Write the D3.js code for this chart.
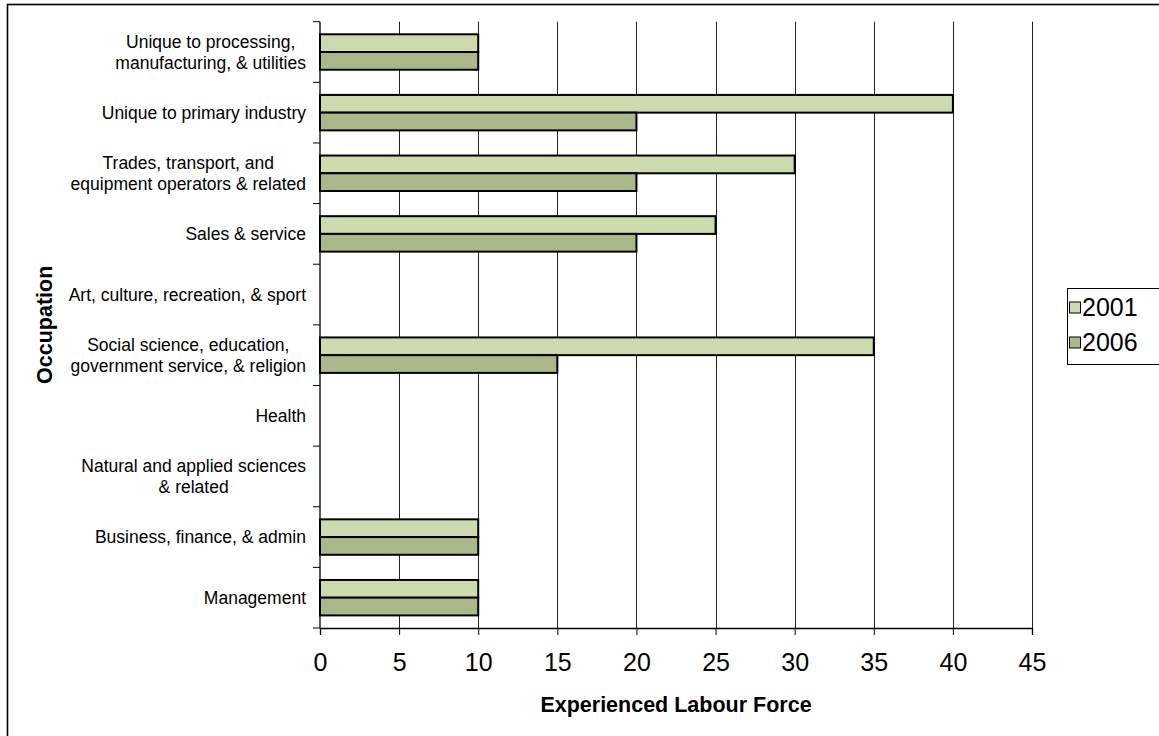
<!DOCTYPE html>
<html>
<head>
<meta charset="utf-8">
<script src="https://cdn.jsdelivr.net/npm/d3@7"></script>
<style>
  body { margin: 0; background: #fff; }
  svg { display: block; font-family: "Liberation Sans", Arial, sans-serif; }
</style>
</head>
<body>
<svg id="chart"></svg>
<script>
// occupations, top to bottom as drawn
var categories = [
  ["Unique to processing,", "manufacturing, & utilities"],
  ["Unique to primary industry"],
  ["Trades, transport, and", "equipment operators & related"],
  ["Sales & service"],
  ["Art, culture, recreation, & sport"],
  ["Social science, education,", "government service, & religion"],
  ["Health"],
  ["Natural and applied sciences", "& related"],
  ["Business, finance, & admin"],
  ["Management"]
];
var seriesNames = ["2001", "2006"];
var values2001 = [10, 40, 30, 25, 0, 35, 0, 0, 10, 10];
var values2006 = [10, 20, 20, 20, 0, 15, 0, 0, 10, 10];
var xTicks = [0, 5, 10, 15, 20, 25, 30, 35, 40, 45];
var colors = ["#ccdaae", "#abb889"];

(function () {
  var W = 1159, H = 736;
  var plotL = 320, plotR = 1032, plotT = 21.7, plotB = 628;

  var svg = d3.select("#chart").attr("width", W).attr("height", H);

  // outer chart frame (right/bottom fall outside the picture)
  svg.append("rect")
    .attr("x", 7.5).attr("y", 4.5)
    .attr("width", W + 20).attr("height", H + 20)
    .attr("fill", "#fff").attr("stroke", "#000").attr("stroke-width", 1.6);

  var ids = categories.map(function (d, i) { return "c" + i; });
  var x = d3.scaleLinear().domain([0, 45]).range([plotL, plotR]);
  var y = d3.scaleBand().domain(ids).range([plotT, plotB]).padding(0);
  var ySub = d3.scaleBand().domain(seriesNames).range([0, y.bandwidth()])
    .paddingInner(0).paddingOuter(0.71);

  // vertical gridlines
  svg.append("g").selectAll("line")
    .data(xTicks.filter(function (t) { return t > 0; })).enter()
    .append("line")
    .attr("x1", function (d) { return Math.round(x(d)) + 0.5; })
    .attr("x2", function (d) { return Math.round(x(d)) + 0.5; })
    .attr("y1", plotT).attr("y2", plotB)
    .attr("stroke", "#222").attr("stroke-width", 1);

  // bars
  var rows = categories.map(function (d, i) {
    return { id: ids[i], vals: [values2001[i], values2006[i]] };
  });
  var groups = svg.append("g").selectAll("g").data(rows).enter()
    .append("g")
    .attr("transform", function (d) { return "translate(0," + y(d.id) + ")"; });
  groups.selectAll("rect")
    .data(function (d) {
      return d.vals.map(function (v, j) { return { s: seriesNames[j], v: v, j: j }; })
        .filter(function (e) { return e.v > 0; });
    })
    .enter().append("rect")
    .attr("x", x(0))
    .attr("y", function (d) { return ySub(d.s); })
    .attr("width", function (d) { return x(d.v) - x(0); })
    .attr("height", ySub.bandwidth())
    .attr("fill", function (d) { return colors[d.j]; })
    .attr("stroke", "#000").attr("stroke-width", 2);

  // x axis
  var xAxis = d3.axisBottom(x).tickValues(xTicks).tickSize(7).tickPadding(18);
  var gx = svg.append("g").attr("transform", "translate(0," + plotB + ")").call(xAxis);
  gx.select(".domain").attr("stroke", "#000").attr("stroke-width", 1.3);
  gx.selectAll(".tick line").attr("stroke", "#000");
  gx.selectAll("text").attr("font-size", 25)
    .attr("font-family", "Liberation Sans, Arial, sans-serif").attr("fill", "#000");

  // y axis line and boundary ticks
  svg.append("line").attr("x1", plotL).attr("x2", plotL).attr("y1", plotT).attr("y2", plotB)
    .attr("stroke", "#000").attr("stroke-width", 1.3);
  var bounds = ids.map(function (d) { return y(d); }).concat([plotB]);
  svg.append("g").selectAll("line").data(bounds).enter().append("line")
    .attr("x1", plotL - 7).attr("x2", plotL)
    .attr("y1", function (d) { return d; }).attr("y2", function (d) { return d; })
    .attr("stroke", "#000").attr("stroke-width", 1);

  // category labels: block right-aligned, lines centered within block
  var labelRight = 306;
  var lineH = 21;
  var labels = svg.append("g").attr("font-size", 17.5).attr("fill", "#000");
  categories.forEach(function (lines, i) {
    var g = labels.append("g");
    var cy = y(ids[i]) + y.bandwidth() / 2;
    var texts = lines.map(function (t, k) {
      return g.append("text").text(t)
        .attr("y", cy + (k - (lines.length - 1) / 2) * lineH + 6);
    });
    var maxW = d3.max(texts, function (t) { return t.node().getComputedTextLength(); });
    texts.forEach(function (t) {
      t.attr("x", labelRight - maxW / 2).attr("text-anchor", "middle");
    });
  });

  // axis titles
  svg.append("text")
    .attr("x", (plotL + plotR) / 2).attr("y", 712)
    .attr("text-anchor", "middle").attr("font-size", 21.5).attr("font-weight", "bold")
    .text("Experienced Labour Force");
  svg.append("text")
    .attr("transform", "translate(52," + ((plotT + plotB) / 2) + ") rotate(-90)")
    .attr("text-anchor", "middle").attr("font-size", 21.5).attr("font-weight", "bold")
    .text("Occupation");

  // legend
  var legend = svg.append("g").attr("transform", "translate(1067,288)");
  legend.append("rect").attr("x", 0.5).attr("y", 0.5).attr("width", 120).attr("height", 76)
    .attr("fill", "#fff").attr("stroke", "#000").attr("stroke-width", 1);
  seriesNames.forEach(function (s, i) {
    var ly = 19.5 + i * 35;
    legend.append("rect").attr("x", 2.5).attr("y", ly - 5.5).attr("width", 11).attr("height", 11)
      .attr("fill", colors[i]).attr("stroke", "#000").attr("stroke-width", 1);
    legend.append("text").attr("x", 15).attr("y", ly + 8.5)
      .attr("font-size", 25).text(s);
  });
})();
</script>
</body>
</html>
